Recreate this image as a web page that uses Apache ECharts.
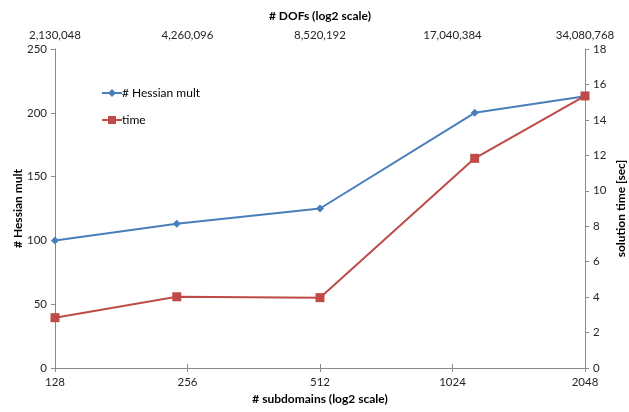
<!DOCTYPE html>
<html>
<head>
<meta charset="utf-8">
<script src="https://cdn.jsdelivr.net/npm/echarts@6/dist/echarts.min.js"></script>
<style>html,body{margin:0;padding:0;background:#fff}#c{width:629px;height:412px}</style>
</head>
<body>
<div id="c"></div>
<script>
// Data
const subdomains = [128, 242, 512, 1150, 2048];
const hessianMult = [100, 113, 125, 200, 213];
const timeSec = [2.84, 4.02, 3.97, 11.83, 15.35];
// Tick labels
const subdomainTicks = [128, 256, 512, 1024, 2048];
const dofTicks = ['2,130,048', '4,260,096', '8,520,192', '17,040,384', '34,080,768'];

const FONT = 'Lato';
const axisGray = '#898989';
const textColor = '#262626';

const chart = echarts.init(document.getElementById('c'), null, {renderer: 'canvas'});
const tickLabel = v => {
  const r = Math.round(v);
  const i = subdomainTicks.indexOf(r);
  return i >= 0 ? String(subdomainTicks[i]) : '';
};
const dofLabel = v => {
  const r = Math.round(v);
  const i = subdomainTicks.indexOf(r);
  return i >= 0 ? dofTicks[i] : '';
};
const baseX = {
  type: 'log', logBase: 2, min: 128, max: 2048,
  axisLine: {lineStyle: {color: axisGray, width: 1}},
  axisTick: {show: true, length: 4, lineStyle: {color: axisGray}},
  splitLine: {show: false},
  minorTick: {show: false},
  nameLocation: 'middle',
  nameMoveOverlap: false,
  nameTextStyle: {fontFamily: FONT, fontSize: 12, fontWeight: 'bold', color: '#000'},
  axisLabel: {fontFamily: FONT, fontSize: 11.5, color: textColor, showMinLabel: true, showMaxLabel: true}
};
chart.setOption({
  animation: false,
  grid: {left: 55, right: 44, top: 49, bottom: 44, containLabel: false, outerBoundsMode: 'none'},
  legend: {
    orient: 'vertical', left: 96, top: 82, itemGap: 15,
    itemWidth: 20, itemHeight: 10,
    textStyle: {fontFamily: FONT, fontSize: 12, color: '#000', padding: [0,0,0,-5]},
    data: ['# Hessian mult', 'time']
  },
  xAxis: [
    Object.assign({}, baseX, {
      position: 'bottom', name: '# subdomains (log2 scale)', nameGap: 25,
      axisLabel: Object.assign({}, baseX.axisLabel, {formatter: tickLabel, margin: 8})
    }),
    Object.assign({}, baseX, {
      position: 'top', name: '# DOFs (log2 scale)', nameGap: 27,
      axisLabel: Object.assign({}, baseX.axisLabel, {formatter: dofLabel, margin: 8})
    })
  ],
  yAxis: [
    {
      type: 'value', min: 0, max: 250, interval: 50, position: 'left',
      name: '# Hessian mult', nameLocation: 'middle', nameGap: 31, nameRotate: 90,
      nameMoveOverlap: false,
      nameTextStyle: {fontFamily: FONT, fontSize: 12, fontWeight: 'bold', color: '#000'},
      axisLine: {show: true, lineStyle: {color: axisGray}},
      axisTick: {show: true, length: 4, lineStyle: {color: axisGray}},
      splitLine: {show: false},
      axisLabel: {fontFamily: FONT, fontSize: 11.5, color: textColor, margin: 8}
    },
    {
      type: 'value', min: 0, max: 18, interval: 2, position: 'right',
      name: 'solution time [sec]', nameLocation: 'middle', nameGap: 30, nameRotate: 90,
      nameMoveOverlap: false,
      nameTextStyle: {fontFamily: FONT, fontSize: 12, fontWeight: 'bold', color: '#000'},
      axisLine: {show: true, lineStyle: {color: axisGray}},
      axisTick: {show: true, length: 4, lineStyle: {color: axisGray}},
      splitLine: {show: false},
      axisLabel: {fontFamily: FONT, fontSize: 11.5, color: textColor, margin: 8}
    }
  ],
  series: [
    {
      name: '# Hessian mult', type: 'line', xAxisIndex: 0, yAxisIndex: 0,
      data: subdomains.map((x, i) => [x, hessianMult[i]]),
      symbol: 'diamond', symbolSize: 8,
      lineStyle: {color: '#4A7EBB', width: 2},
      itemStyle: {color: '#4A7EBB'}
    },
    {
      name: 'time', type: 'line', xAxisIndex: 0, yAxisIndex: 1,
      data: subdomains.map((x, i) => [x, timeSec[i]]),
      symbol: 'rect', symbolSize: 9,
      lineStyle: {color: '#BE4B48', width: 2},
      itemStyle: {color: '#BE4B48'}
    }
  ]
});
</script>
</body>
</html>
